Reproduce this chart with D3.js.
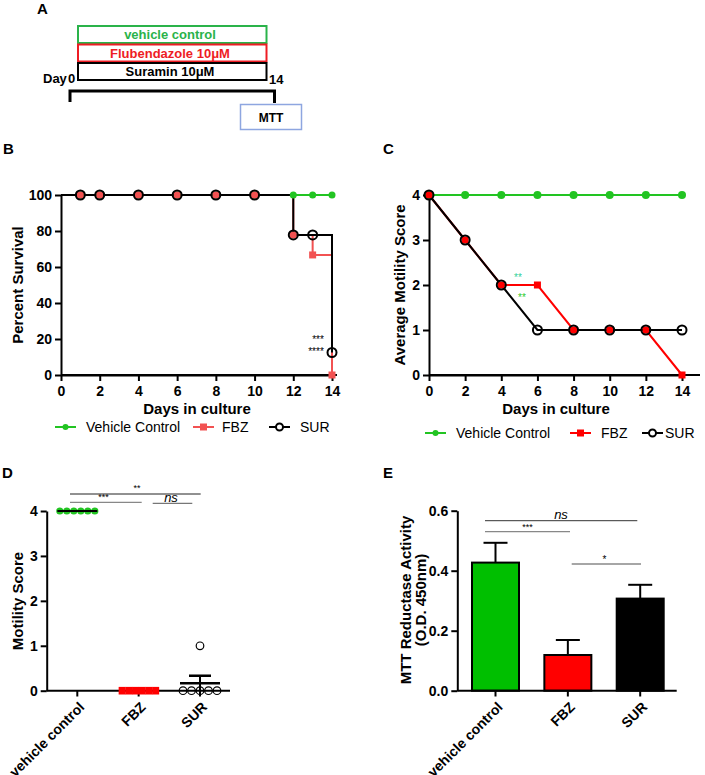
<!DOCTYPE html>
<html><head><meta charset="utf-8">
<script src="https://cdn.jsdelivr.net/npm/d3@7"></script>
<style>
body{margin:0;background:#fff;}
svg{display:block;font-family:"Liberation Sans",Arial,sans-serif;}
</style></head>
<body><svg id="c" width="705" height="775"></svg>
<script>
// ---------- DATA ----------
const treatments = ["vehicle control","Flubendazole 10μM","Suramin 10μM"];
const legendLabels = ["Vehicle Control","FBZ","SUR"];

const survDays = [1,2,4,6,8,10,12,13,14];
const survVehicle = [100,100,100,100,100,100,100,100,100];
const survFBZ = [100,100,100,100,100,100,77.8,66.7,0];
const survSUR = [100,100,100,100,100,100,77.8,77.8,12.5];
const survTicksX = [0,2,4,6,8,10,12,14];
const survTicksY = [0,20,40,60,80,100];

const motDays = [0,2,4,6,8,10,12,14];
const motVehicle = [4,4,4,4,4,4,4,4];
const motFBZ = [4,3,2,2,1,1,1,0];
const motSUR = [4,3,2,1,1,1,1,1];
const motTicksY = [0,1,2,3,4];

const groups = ["vehicle control","FBZ","SUR"];
const scoreVehicle = [4,4,4,4,4,4];
const scoreFBZ = [0,0,0,0,0,0];
const scoreSUR = [1,0,0,0,0,0];
const scoreTicks = [0,1,2,3,4];

const mttMean = [0.427,0.119,0.307];
const mttSEM = [0.066,0.050,0.046];
const mttTicks = [0.0,0.2,0.4,0.6];

// ---------- STYLE ----------
const GREEN="#22c422", LRED="#f25252", RED="#ff0000", BLACK="#000";
const svg = d3.select("#c");
const fmtInt = d3.format("d");

function panelLabel(t,x,y){svg.append("text").attr("x",x).attr("y",y).attr("font-weight","bold").attr("font-size",15).text(t);}
function styleAxis(g){
  g.selectAll(".domain").attr("stroke","#000").attr("stroke-width",2);
  g.selectAll(".tick line").attr("stroke","#000").attr("stroke-width",2);
  g.selectAll(".tick text").attr("font-family","Liberation Sans, Arial, sans-serif").attr("font-weight","bold").attr("font-size",14).attr("fill","#000");
}
function drawLegend(lg,yy,tx){
  lg.forEach((l,i)=>{
    svg.append("line").attr("x1",l.x).attr("x2",l.x+21).attr("y1",yy).attr("y2",yy).attr("stroke",l.c).attr("stroke-width",2);
    if(l.m==="dot") svg.append("circle").attr("cx",l.x+10.5).attr("cy",yy).attr("r",3).attr("fill",l.c);
    if(l.m==="sq") svg.append("rect").attr("x",l.x+7).attr("y",yy-3.5).attr("width",7).attr("height",7).attr("fill",l.c);
    if(l.m==="circ") svg.append("circle").attr("cx",l.x+10.5).attr("cy",yy).attr("r",3.5).attr("fill","#fff").attr("stroke",l.c).attr("stroke-width",2);
    svg.append("text").attr("x",tx[i]).attr("y",yy+5).attr("font-size",14).text(l.t);
  });
}

// ---------- PANEL A ----------
panelLabel("A",37,14);
const boxes=[{c:"#2ab34a",t:treatments[0],y:26},{c:"#ee1c24",t:treatments[1],y:44.5},{c:"#000",t:treatments[2],y:63}];
boxes.forEach(b=>{
  svg.append("rect").attr("x",78).attr("y",b.y).attr("width",188.5).attr("height",17).attr("fill","none").attr("stroke",b.c).attr("stroke-width",2);
  svg.append("text").attr("x",170).attr("y",b.y+13).attr("text-anchor","middle").attr("font-weight","bold").attr("font-size",13).attr("fill",b.c).text(b.t);
});
svg.append("text").attr("x",43).attr("y",83).attr("font-weight","bold").attr("font-size",13).text("Day");
svg.append("text").attr("x",68).attr("y",83).attr("font-weight","bold").attr("font-size",13).text("0");
svg.append("text").attr("x",269).attr("y",84).attr("font-weight","bold").attr("font-size",13).text("14");
svg.append("path").attr("d","M70,102V91H274.5V103").attr("fill","none").attr("stroke","#000").attr("stroke-width",3);
svg.append("rect").attr("x",240.5).attr("y",104.5).attr("width",61).attr("height",25).attr("fill","#fff").attr("stroke","#8ea6e0").attr("stroke-width",1.5);
svg.append("text").attr("x",271).attr("y",122).attr("text-anchor","middle").attr("font-weight","bold").attr("font-size",12).text("MTT");

// ---------- PANEL B ----------
panelLabel("B",3,154);
{
  const x=d3.scaleLinear().domain([0,14]).range([61,332]);
  const y=d3.scaleLinear().domain([0,100]).range([375,195]);
  svg.append("line").attr("x1",61).attr("x2",337).attr("y1",375).attr("y2",375).attr("stroke","#000").attr("stroke-width",2);
  const gx=svg.append("g").attr("transform","translate(0,375)").call(d3.axisBottom(x).tickValues(survTicksX).tickFormat(fmtInt).tickSize(6).tickSizeOuter(0).tickPadding(5));
  styleAxis(gx);
  const gy=svg.append("g").attr("transform","translate(61,0)").call(d3.axisLeft(y).tickValues(survTicksY).tickFormat(fmtInt).tickSize(6).tickSizeOuter(0).tickPadding(3));
  styleAxis(gy);
  svg.append("text").attr("x",197).attr("y",414).attr("text-anchor","middle").attr("font-weight","bold").attr("font-size",15).text("Days in culture");
  svg.append("text").attr("transform","translate(23,285) rotate(-90)").attr("text-anchor","middle").attr("font-weight","bold").attr("font-size",15).text("Percent Survival");
  const line=d3.line().x(d=>x(d[0])).y(d=>y(d[1])).curve(d3.curveStepAfter);
  [[survVehicle,GREEN],[survFBZ,LRED],[survSUR,BLACK]].forEach(([v,c])=>{
    const pts=[[0,v[0]]].concat(survDays.map((d,i)=>[d,v[i]]));
    svg.append("path").attr("d",line(pts)).attr("fill","none").attr("stroke",c).attr("stroke-width",2);
  });
  svg.selectAll(null).data(survDays).enter().append("circle").attr("cx",d=>x(d)).attr("cy",(d,i)=>y(survVehicle[i])).attr("r",3.5).attr("fill",GREEN);
  svg.selectAll(null).data(survDays).enter().append("rect").attr("x",d=>x(d)-3.5).attr("y",(d,i)=>y(survFBZ[i])-3.5).attr("width",7).attr("height",7).attr("fill",LRED);
  svg.selectAll(null).data(survDays).enter().append("circle").attr("cx",d=>x(d)).attr("cy",(d,i)=>y(survSUR[i])).attr("r",4.5).attr("fill","none").attr("stroke","#000").attr("stroke-width",2);
  svg.append("text").attr("x",318).attr("y",343).attr("text-anchor","middle").attr("font-size",10).text("***");
  svg.append("text").attr("x",316).attr("y",355).attr("text-anchor","middle").attr("font-size",10).text("****");
  drawLegend([{x:55,t:legendLabels[0],c:GREEN,m:"dot"},{x:193,t:legendLabels[1],c:LRED,m:"sq"},{x:269,t:legendLabels[2],c:BLACK,m:"circ"}],427,[86,222,300]);
}

// ---------- PANEL C ----------
panelLabel("C",383,154);
{
  const x=d3.scaleLinear().domain([0,14]).range([429,682]);
  const y=d3.scaleLinear().domain([0,4]).range([375,195]);
  svg.append("line").attr("x1",429).attr("x2",700).attr("y1",375).attr("y2",375).attr("stroke","#000").attr("stroke-width",2);
  const gx=svg.append("g").attr("transform","translate(0,375)").call(d3.axisBottom(x).tickValues(motDays).tickFormat(fmtInt).tickSize(6).tickSizeOuter(0).tickPadding(5));
  styleAxis(gx);
  const gy=svg.append("g").attr("transform","translate(429,0)").call(d3.axisLeft(y).tickValues(motTicksY).tickFormat(fmtInt).tickSize(6).tickSizeOuter(0).tickPadding(3));
  styleAxis(gy);
  svg.append("text").attr("x",556).attr("y",414).attr("text-anchor","middle").attr("font-weight","bold").attr("font-size",15).text("Days in culture");
  svg.append("text").attr("transform","translate(405,285) rotate(-90)").attr("text-anchor","middle").attr("font-weight","bold").attr("font-size",15).text("Average Motility Score");
  const line=d3.line().x(d=>x(d[0])).y(d=>y(d[1]));
  [[motVehicle,GREEN],[motFBZ,RED],[motSUR,BLACK]].forEach(([v,c])=>{
    svg.append("path").attr("d",line(motDays.map((d,i)=>[d,v[i]]))).attr("fill","none").attr("stroke",c).attr("stroke-width",2);
  });
  svg.selectAll(null).data(motDays).enter().append("circle").attr("cx",d=>x(d)).attr("cy",(d,i)=>y(motVehicle[i])).attr("r",4).attr("fill",GREEN);
  svg.selectAll(null).data(motDays).enter().append("rect").attr("x",d=>x(d)-3.5).attr("y",(d,i)=>y(motFBZ[i])-3.5).attr("width",7).attr("height",7).attr("fill",RED);
  svg.selectAll(null).data(motDays).enter().append("circle").attr("cx",d=>x(d)).attr("cy",(d,i)=>y(motSUR[i])).attr("r",4.5).attr("fill","none").attr("stroke","#000").attr("stroke-width",2);
  svg.append("text").attr("x",518).attr("y",281).attr("text-anchor","middle").attr("font-size",10).attr("fill","#2fcf9a").text("**");
  svg.append("text").attr("x",522).attr("y",301).attr("text-anchor","middle").attr("font-size",10).attr("fill","#2ccb2c").text("**");
  drawLegend([{x:425,t:legendLabels[0],c:GREEN,m:"dot"},{x:570,t:legendLabels[1],c:RED,m:"sq"},{x:642,t:legendLabels[2],c:BLACK,m:"circ"}],433,[456,601,665]);
}

// ---------- PANEL D ----------
panelLabel("D",2,478);
{
  const x=d3.scalePoint().domain(groups).range([77.3,200]);
  const y=d3.scaleLinear().domain([0,4]).range([690.7,511]);
  const gy=svg.append("g").attr("transform","translate(46.7,0)").call(d3.axisLeft(y).tickValues(scoreTicks).tickFormat(fmtInt).tickSize(6).tickSizeOuter(0).tickPadding(3));
  styleAxis(gy);
  svg.append("line").attr("x1",46.7).attr("x2",230).attr("y1",690.7).attr("y2",690.7).attr("stroke","#000").attr("stroke-width",2);
  groups.forEach(g=>{
    svg.append("line").attr("x1",x(g)).attr("x2",x(g)).attr("y1",690.7).attr("y2",696.5).attr("stroke","#000").attr("stroke-width",2);
    svg.append("text").attr("transform",`translate(${x(g)+1},${701}) rotate(-45)`).attr("text-anchor","end").attr("dy","0.7em").attr("font-weight","bold").attr("font-size",14).text(g);
  });
  svg.append("text").attr("transform","translate(23,601) rotate(-90)").attr("text-anchor","middle").attr("font-weight","bold").attr("font-size",15).text("Motility Score");
  scoreVehicle.forEach((v,i)=>svg.append("circle").attr("cx",x(groups[0])-17.5+i*7).attr("cy",y(v)).attr("r",3.6).attr("fill",GREEN));
  svg.append("line").attr("x1",x(groups[0])-20).attr("x2",x(groups[0])+20).attr("y1",y(d3.mean(scoreVehicle))).attr("y2",y(d3.mean(scoreVehicle))).attr("stroke","#000").attr("stroke-width",2);
  scoreFBZ.forEach((v,i)=>svg.append("rect").attr("x",x(groups[1])-20+i*6.7).attr("y",y(v)-3.8).attr("width",7).attr("height",7.6).attr("fill",RED));
  const zeroIdx=[];
  scoreSUR.forEach((v,i)=>{ if(v===0) zeroIdx.push(i); });
  scoreSUR.forEach((v,i)=>{
    let cx=x(groups[2]);
    if(v===0){const k=zeroIdx.indexOf(i);cx=x(groups[2])-17+k*8.5;}
    svg.append("circle").attr("cx",cx).attr("cy",y(v)).attr("r",3.8).attr("fill","none").attr("stroke","#000").attr("stroke-width",1.2);
  });
  const m=d3.mean(scoreSUR), sem=d3.deviation(scoreSUR)/Math.sqrt(scoreSUR.length);
  const xs=x(groups[2]);
  svg.append("line").attr("x1",xs-20).attr("x2",xs+20).attr("y1",y(m)).attr("y2",y(m)).attr("stroke","#000").attr("stroke-width",2.5);
  svg.append("line").attr("x1",xs).attr("x2",xs).attr("y1",y(m+sem)).attr("y2",y(Math.max(0,m-sem))).attr("stroke","#000").attr("stroke-width",2);
  svg.append("line").attr("x1",xs-11).attr("x2",xs+11).attr("y1",y(m+sem)).attr("y2",y(m+sem)).attr("stroke","#000").attr("stroke-width",2.5);
  svg.append("line").attr("x1",70).attr("x2",200.7).attr("y1",494).attr("y2",494).attr("stroke","#222").attr("stroke-width",1);
  svg.append("text").attr("x",137).attr("y",491).attr("text-anchor","middle").attr("font-size",9).text("**");
  svg.append("line").attr("x1",70).attr("x2",141.7).attr("y1",502.3).attr("y2",502.3).attr("stroke","#888").attr("stroke-width",1.3);
  svg.append("text").attr("x",103.5).attr("y",500).attr("text-anchor","middle").attr("font-size",9).text("***");
  svg.append("line").attr("x1",152.7).attr("x2",192.3).attr("y1",503.3).attr("y2",503.3).attr("stroke","#555").attr("stroke-width",1);
  svg.append("text").attr("x",171).attr("y",502).attr("text-anchor","middle").attr("font-style","italic").attr("font-size",13).text("ns");
}

// ---------- PANEL E ----------
panelLabel("E",383,478);
{
  const x=d3.scalePoint().domain(groups).range([495.5,640.2]);
  const y=d3.scaleLinear().domain([0,0.6]).range([690.7,510.7]);
  const bw=47, colors=["#00bf00",RED,BLACK];
  const gy=svg.append("g").attr("transform","translate(457.3,0)").call(d3.axisLeft(y).tickValues(mttTicks).tickFormat(d3.format(".1f")).tickSize(6).tickSizeOuter(0).tickPadding(3));
  styleAxis(gy);
  groups.forEach((g,i)=>{
    const cx=x(g), top=y(mttMean[i]+mttSEM[i]);
    svg.append("line").attr("x1",cx).attr("x2",cx).attr("y1",y(mttMean[i])).attr("y2",top).attr("stroke","#000").attr("stroke-width",2);
    svg.append("line").attr("x1",cx-12).attr("x2",cx+12).attr("y1",top).attr("y2",top).attr("stroke","#000").attr("stroke-width",2);
    svg.append("rect").attr("x",cx-bw/2).attr("y",y(mttMean[i])).attr("width",bw).attr("height",y(0)-y(mttMean[i])).attr("fill",colors[i]).attr("stroke","#000").attr("stroke-width",2);
  });
  svg.append("line").attr("x1",457.3).attr("x2",676.7).attr("y1",690.7).attr("y2",690.7).attr("stroke","#000").attr("stroke-width",2);
  groups.forEach(g=>{
    svg.append("line").attr("x1",x(g)).attr("x2",x(g)).attr("y1",690.7).attr("y2",696.5).attr("stroke","#000").attr("stroke-width",2);
    svg.append("text").attr("transform",`translate(${x(g)+1},${701}) rotate(-45)`).attr("text-anchor","end").attr("dy","0.7em").attr("font-weight","bold").attr("font-size",14).text(g);
  });
  svg.append("text").attr("transform","translate(411,600) rotate(-90)").attr("text-anchor","middle").attr("font-weight","bold").attr("font-size",15).text("MTT Reductase Activity");
  svg.append("text").attr("transform","translate(426,600) rotate(-90)").attr("text-anchor","middle").attr("font-weight","bold").attr("font-size",15).text("(O.D. 450nm)");
  svg.append("line").attr("x1",485).attr("x2",637.3).attr("y1",520.7).attr("y2",520.7).attr("stroke","#333").attr("stroke-width",1);
  svg.append("text").attr("x",561).attr("y",519).attr("text-anchor","middle").attr("font-style","italic").attr("font-size",13).text("ns");
  svg.append("line").attr("x1",485).attr("x2",570).attr("y1",531.7).attr("y2",531.7).attr("stroke","#888").attr("stroke-width",1.3);
  svg.append("text").attr("x",527.5).attr("y",530).attr("text-anchor","middle").attr("font-size",9).text("***");
  svg.append("line").attr("x1",571.7).attr("x2",641).attr("y1",564).attr("y2",564).attr("stroke","#888").attr("stroke-width",1.3);
  svg.append("text").attr("x",604.5).attr("y",563).attr("text-anchor","middle").attr("font-size",10).text("*");
}
</script></body></html>
